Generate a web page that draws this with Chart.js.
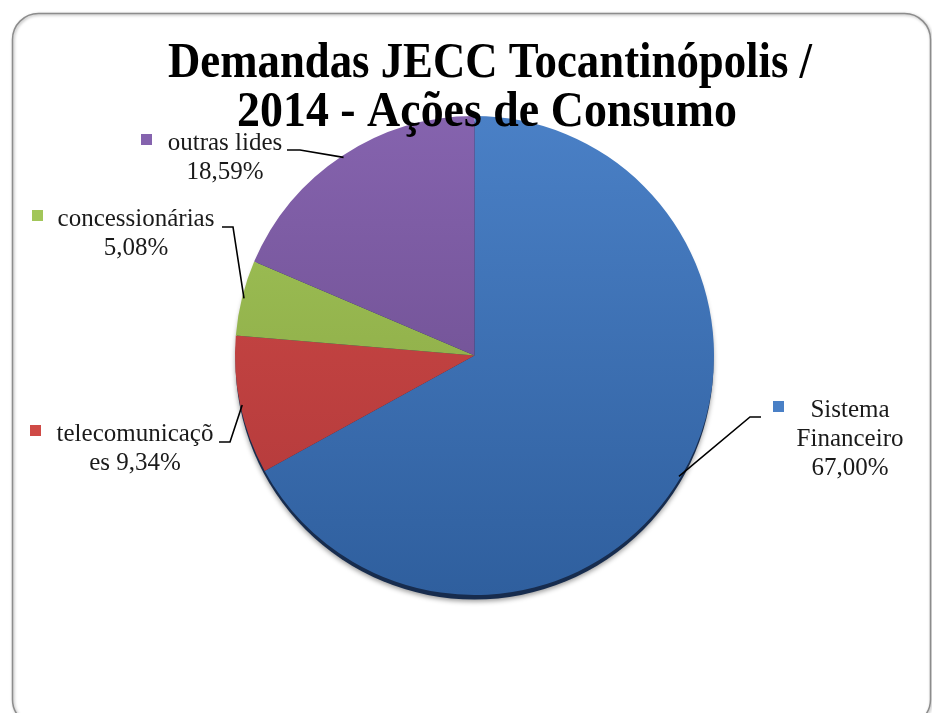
<!DOCTYPE html>
<html>
<head>
<meta charset="utf-8">
<script src="https://cdn.jsdelivr.net/npm/chart.js@4.4.1/dist/chart.umd.min.js"></script>
<style>
  body { margin: 0; background: #fff; }
  #wrap { width: 932px; height: 713px; }
</style>
</head>
<body>
<div id="wrap"><canvas id="pieChart" width="932" height="713"></canvas></div>
<script>
const titleLines = ['Demandas JECC Tocantinópolis /', '2014 - Ações de Consumo'];
const categories = ['Sistema Financeiro', 'telecomunicações', 'concessionárias', 'outras lides'];
const shares = [67.00, 9.34, 5.08, 18.59];
// how each label is wrapped in the original, {p} = percentage
const labelLines = [
  ['Sistema', 'Financeiro', '{p}'],
  ['telecomunicaçõ', 'es {p}'],
  ['concessionárias', '{p}'],
  ['outras lides', '{p}'],
];
const topColors = ['#4a80c6', '#cf4a46', '#a2c659', '#8563ae'];
const bottomColors = ['#2f5f9e', '#b0383a', '#849f3f', '#664886'];

// label placement (centre x of text, first baseline, marker, leader elbow)
const labelLayout = [
  { cx: 850, y: 417, sq: [773, 401], leader: [[761, 417], [750, 417]] },
  { cx: 135, y: 441, sq: [30, 425], leader: [[219, 442], [230, 442]] },
  { cx: 136, y: 226, sq: [32, 210], leader: [[222, 227], [233, 227]] },
  { cx: 225, y: 150, sq: [141, 134], leader: [[287, 150], [300, 150]] },
];

function pct(v) {
  return v.toFixed(2).replace('.', ',') + '%';
}

function sliceGradient(ctx, i) {
  const area = ctx.chart.chartArea;
  if (!area) return topColors[i];
  const g = ctx.chart.ctx.createLinearGradient(0, area.top, 0, area.bottom);
  g.addColorStop(0, topColors[i]);
  g.addColorStop(1, bottomColors[i]);
  return g;
}

const framePlugin = {
  id: 'frame',
  beforeDraw(chart) {
    const c = chart.ctx;
    c.save();
    c.fillStyle = '#fff';
    c.fillRect(0, 0, chart.width, chart.height);
    c.shadowColor = 'rgba(0,0,0,0.35)';
    c.shadowBlur = 3;
    c.shadowOffsetX = 1;
    c.shadowOffsetY = 1;
    c.strokeStyle = '#8c8c8c';
    c.lineWidth = 1.5;
    c.beginPath();
    c.roundRect(12.5, 13.5, 918, 712, 26);
    c.stroke();
    c.restore();
  },
  beforeDatasetsDraw(chart) {
    // dark rim + soft shadow under the pie
    const arc = chart.getDatasetMeta(0).data[0];
    const c = chart.ctx;
    c.save();
    c.shadowColor = 'rgba(0,0,0,0.4)';
    c.shadowBlur = 5;
    c.shadowOffsetY = 2;
    c.fillStyle = '#172c4e';
    c.beginPath();
    c.arc(arc.x, arc.y + 5, arc.outerRadius - 0.5, 0, Math.PI * 2);
    c.fill();
    c.restore();
  },
  afterDatasetsDraw(chart) {
    const c = chart.ctx;
    const meta = chart.getDatasetMeta(0);

    // title, squeezed horizontally like the original
    c.save();
    c.fillStyle = '#000';
    c.font = 'bold 50px "Liberation Serif", "Times New Roman", serif';
    c.textBaseline = 'alphabetic';
    const titleSpec = [[490, 77, 644], [487, 126, 500]];
    titleLines.forEach((t, i) => {
      const [cx, by, w] = titleSpec[i];
      const mw = c.measureText(t).width;
      const sx = w / mw;
      c.save();
      c.translate(cx, by);
      c.scale(sx, 1);
      c.textAlign = 'center';
      c.fillText(t, 0, 0);
      c.restore();
    });
    c.restore();

    // data labels with leader lines
    c.save();
    c.font = '25px "Liberation Serif", "Times New Roman", serif';
    c.textAlign = 'center';
    c.textBaseline = 'alphabetic';
    meta.data.forEach((arc, i) => {
      const lay = labelLayout[i];
      const mid = (arc.startAngle + arc.endAngle) / 2;
      const ex = arc.x + Math.cos(mid) * (arc.outerRadius - 2);
      const ey = arc.y + Math.sin(mid) * (arc.outerRadius - 2);
      c.strokeStyle = '#000';
      c.lineWidth = 1.6;
      c.beginPath();
      c.moveTo(lay.leader[0][0], lay.leader[0][1]);
      c.lineTo(lay.leader[1][0], lay.leader[1][1]);
      c.lineTo(ex, ey);
      c.stroke();

      c.fillStyle = topColors[i];
      c.fillRect(lay.sq[0], lay.sq[1], 11, 11);

      c.fillStyle = '#1a1a1a';
      labelLines[i].forEach((ln, j) => {
        c.fillText(ln.replace('{p}', pct(shares[i])), lay.cx, lay.y + j * 29);
      });
    });
    c.restore();
  }
};

new Chart(document.getElementById('pieChart'), {
  type: 'pie',
  data: {
    labels: categories,
    datasets: [{
      data: shares,
      backgroundColor: (ctx) => sliceGradient(ctx, ctx.dataIndex),
      borderWidth: 0,
    }],
  },
  options: {
    responsive: false,
    animation: false,
    layout: { padding: { left: 234, right: 217, top: 116, bottom: 118 } },
    plugins: {
      legend: { display: false },
      tooltip: { enabled: false },
      title: { display: false },
    },
  },
  plugins: [framePlugin],
});
</script>
</body>
</html>
